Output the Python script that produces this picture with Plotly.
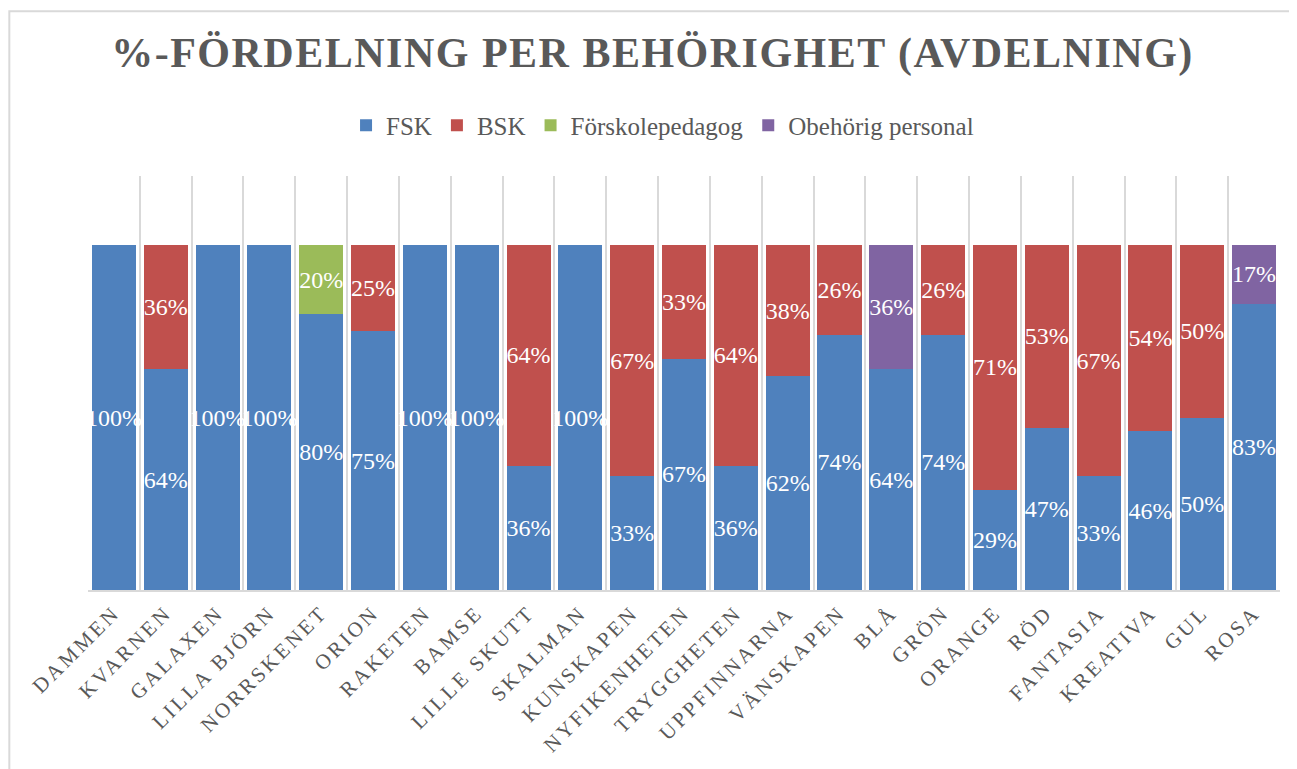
import plotly.graph_objects as go

# Avdelningar (x-axel)
avdelningar = ['DAMMEN', 'KVARNEN', 'GALAXEN', 'LILLA BJÖRN', 'NORRSKENET', 'ORION',
               'RAKETEN', 'BAMSE', 'LILLE SKUTT', 'SKALMAN', 'KUNSKAPEN', 'NYFIKENHETEN',
               'TRYGGHETEN', 'UPPFINNARNA', 'VÄNSKAPEN', 'BLÅ', 'GRÖN', 'ORANGE', 'RÖD',
               'FANTASIA', 'KREATIVA', 'GUL', 'ROSA']

# Andel i procent per behörighet
fsk = [100, 64, 100, 100, 80, 75, 100, 100, 36, 100, 33, 67, 36, 62, 74, 64, 74, 29, 47, 33, 46, 50, 83]
bsk = [0, 36, 0, 0, 0, 25, 0, 0, 64, 0, 67, 33, 64, 38, 26, 0, 26, 71, 53, 67, 54, 50, 0]
forskolepedagog = [0, 0, 0, 0, 20, 0, 0, 0, 0, 0, 0, 0, 0, 0, 0, 0, 0, 0, 0, 0, 0, 0, 0]
obehorig = [0, 0, 0, 0, 0, 0, 0, 0, 0, 0, 0, 0, 0, 0, 0, 36, 0, 0, 0, 0, 0, 0, 17]

serier = [
    ('FSK', fsk, '#4F81BD'),
    ('BSK', bsk, '#C0504D'),
    ('Förskolepedagog', forskolepedagog, '#9BBB59'),
    ('Obehörig personal', obehorig, '#8064A2'),
]

TEXT_COLOR = '#595959'
FONT = 'Liberation Serif'

fig = go.Figure()

for namn, varden, farg in serier:
    fig.add_trace(go.Bar(
        x=avdelningar,
        y=[v / 100 for v in varden],
        name=namn,
        marker=dict(color=farg, line=dict(width=0)),
        text=[f'{v}%' if v else None for v in varden],
        textposition='inside',
        insidetextanchor='middle',
        textangle=0,
        textfont=dict(family=FONT, size=24, color='white'),
        cliponaxis=False,
    ))

ticktext = [f'<span style="letter-spacing:3px">{a}</span>' for a in avdelningar]

# sidan har 8 px marginal runt figuren
fig.update_layout(
    barmode='stack',
    bargap=0.15,
    width=1289,
    height=761,
    margin=dict(l=80, r=17, t=168, b=176),
    plot_bgcolor='white',
    paper_bgcolor='white',
    title=dict(
        text='<span style="letter-spacing:1.5px">%-FÖRDELNING PER BEHÖRIGHET (AVDELNING)</span>',
        x=0.5,
        xanchor='center',
        y=1 - 44 / 761,
        yanchor='middle',
        font=dict(family=FONT, size=42, color=TEXT_COLOR, weight='bold'),
    ),
    legend=dict(
        orientation='h',
        x=0.482,
        xanchor='center',
        y=1.122,
        yanchor='middle',
        font=dict(family=FONT, size=25, color=TEXT_COLOR),
        traceorder='normal',
    ),
    uniformtext=dict(minsize=24, mode='show'),
    xaxis=dict(
        type='category',
        tickmode='array',
        tickvals=avdelningar,
        ticktext=ticktext,
        tickson='boundaries',
        ticks='',
        tickangle=-45,
        tickfont=dict(family=FONT, size=21, color=TEXT_COLOR),
        showgrid=True,
        gridcolor='#D9D9D9',
        gridwidth=2,
        showline=True,
        linecolor='#D9D9D9',
        linewidth=2,
    ),
    yaxis=dict(
        range=[0, 1.2],
        visible=False,
        showgrid=False,
        zeroline=False,
    ),
    showlegend=True,
)

# Ram runt diagrammet
fig.add_shape(
    type='rect',
    xref='paper', yref='paper',
    x0=-0.066, x1=1.02, y0=-0.5, y1=1.398,
    line=dict(color='#D9D9D9', width=2),
    fillcolor='rgba(0,0,0,0)',
    layer='below',
)

fig.write_html('out.html')
